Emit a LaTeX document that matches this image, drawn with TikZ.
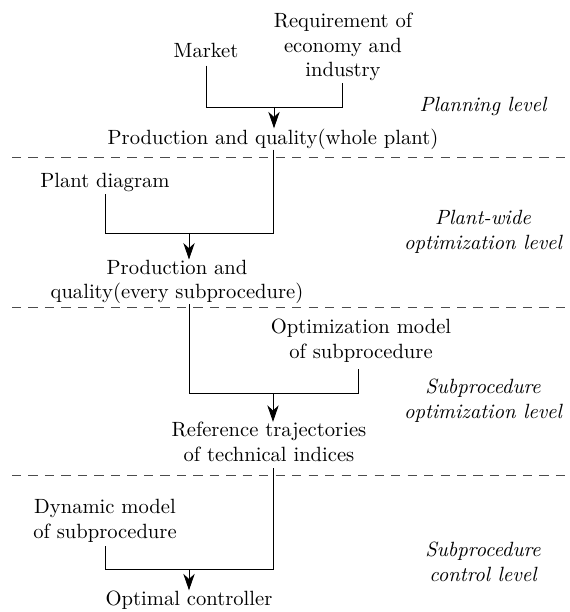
\documentclass[tikz,border=0pt]{standalone}
\usetikzlibrary{arrows.meta,calc}
\begin{document}
\begin{tikzpicture}[x=0.4854pt,y=-0.4854pt,
  txt/.style={inner sep=0pt, align=center},
  lvl/.style={inner sep=0pt, align=center, font=\itshape},
  conn/.style={line width=0.4pt},
  arr/.style={line width=0.4pt, -{Stealth[length=8pt,width=5.5pt,inset=2.5pt]}},
  sep/.style={dash pattern=on 4.5pt off 3.5pt, line width=0.4pt, black!70}]
\useasboundingbox (0,0) rectangle (569,612);
% text nodes
\node[txt] (mkt) at (206,50) {Market};
\node[txt] (req) at (343,47) {Requirement of\\economy and\\industry};
\node[txt] (p1) at (273,139) {Production and quality(whole plant)};
\node[txt] (pd) at (105,182) {Plant diagram};
\node[txt] (p2) at (177,282) {Production and\\quality(every subprocedure)};
\node[txt] (om) at (361,341) {Optimization model\\of subprocedure};
\node[txt] (rt) at (269,442) {Reference trajectories\\of technical indices};
\node[txt] (dm) at (105,521) {Dynamic model\\of subprocedure};
\node[txt] (oc) at (189,600) {Optimal controller};
% level labels
\node[lvl] (l1) at (483,106) {Planning level};
\node[lvl] (l2) at (483,232) {Plant-wide\\optimization level};
\node[lvl] (l3) at (483,401) {Subprocedure\\optimization level};
\node[lvl] (l4) at (483,562) {Subprocedure\\control level};
% separators
\coordinate (s1a) at (12,157);   \coordinate (s1b) at (569,157);
\coordinate (s2a) at (12,307.5); \coordinate (s2b) at (569,307.5);
\coordinate (s3a) at (12,475);   \coordinate (s3b) at (569,475);
\draw[sep] (s1a) -- (s1b);
\draw[sep] (s2a) -- (s2b);
\draw[sep] (s3a) -- (s3b);
% junctions
\coordinate (j1l) at (206,107); \coordinate (j1r) at (342,107); \coordinate (j1m) at (274,107);
\coordinate (j2l) at (105,233); \coordinate (j2r) at (273,233); \coordinate (j2m) at (189,233);
\coordinate (j3l) at (189,393); \coordinate (j3r) at (358,393); \coordinate (j3m) at (273,393);
\coordinate (j4l) at (105,569); \coordinate (j4r) at (273,569); \coordinate (j4m) at (189,569);
% connectors
\draw[conn] ($(mkt.south -| j1l)+(0,8)$) -- (j1l) -- (j1r) -- ($(req.south -| j1r)+(0,1)$);
\draw[arr] (j1m) -- (p1.north -| j1m);
\draw[conn] (p1.south -| j2r) -- (j2r) -- (j2l) -- ($(pd.south -| j2l)+(0,2)$);
\draw[arr] (j2m) -- (p2.north -| j2m);
\draw[conn] (p2.south -| j3l) -- (j3l) -- (j3r) -- ($(om.south -| j3r)+(0,6)$);
\draw[arr] (j3m) -- (rt.north -| j3m);
\draw[conn] ($(rt.south -| j4r)+(0,6)$) -- (j4r) -- (j4l) -- ($(dm.south -| j4l)+(0,3)$);
\draw[arr] (j4m) -- (oc.north -| j4m);
\end{tikzpicture}
\end{document}
